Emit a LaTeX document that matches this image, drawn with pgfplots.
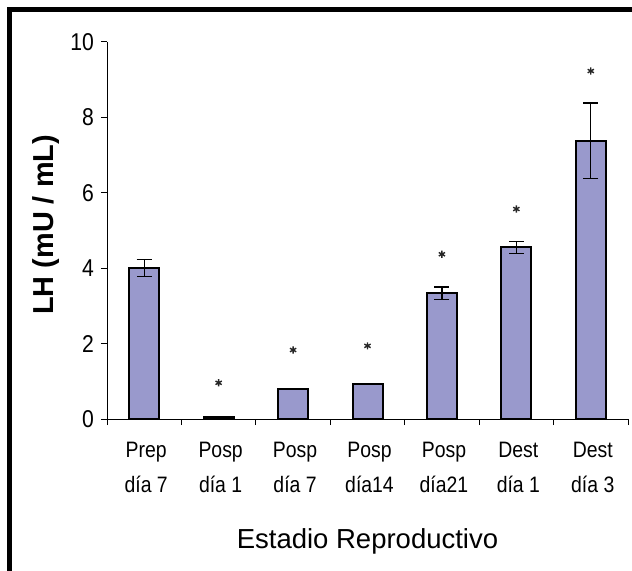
\documentclass[border=0pt]{standalone}
\usepackage{fontspec}
\setmainfont{Liberation Sans}[FakeStretch=0.87]
\newfontfamily\plainfont{Liberation Sans}
\usepackage{pgfplots}
\pgfplotsset{compat=1.18}
\definecolor{barfill}{RGB}{153,153,204}
\begin{document}
\begin{tikzpicture}
\useasboundingbox (-53.5bp,-76bp) rectangle (262.5bp,209.5bp);
\fill[black] (-49.85bp,-76bp) rectangle (-47.35bp,206.15bp);
\fill[black] (-49.85bp,203.65bp) rectangle (262.5bp,206.15bp);
\begin{axis}[
  scale only axis, width=260.5bp, height=188.5bp,
  at={(0,0)}, anchor=south west,
  xmin=-0.5, xmax=6.5, ymin=0, ymax=10,
  axis x line*=bottom, axis y line*=left,
  axis line style={line width=0.5bp},
  tick align=outside,
  major tick length=3bp, minor tick length=3bp,
  tick style={black, line width=0.5bp},
  ytick={0,2,4,6,8,10},
  xtick={0,1,2,3,4,5,6},
  minor xtick={-0.5,0.5,1.5,2.5,3.5,4.5,5.5,6.5},
  major x tick style={draw=none},
  xticklabels={{Prep\\día 7},{Posp\\día 1},{Posp\\día 7},{Posp\\día14},{Posp\\día21},{Dest\\día 1},{Dest\\día 3}},
  xticklabel style={align=center, font=\fontsize{11.2}{17.5}\selectfont, yshift=-5bp, xshift=1bp},
  yticklabel style={font=\fontsize{12.2}{14}\selectfont},
  /pgf/number format/assume math mode=true,
  xlabel={Estadio Reproductivo},
  xlabel style={font=\plainfont\fontsize{13.8}{16}\selectfont, at={(axis description cs:0.5,-0.343)}, anchor=base},
  ylabel={LH (mU / mL)},
  ylabel style={font=\plainfont\bfseries\fontsize{14.5}{16}\selectfont, at={(axis description cs:-0.103,0.515)}, anchor=base},
  ybar, bar width=15bp,
  clip=false,
]
\addplot[fill=barfill, draw=black, line width=1bp,
  error bars/.cd, y dir=both, y explicit,
  error bar style={line width=0.6bp, black},
  error mark options={rotate=90, mark size=3.75bp, line width=0.6bp, black}]
  coordinates {
  (0,4.00) +- (0,0.23)
  (1,0.05) +- (0,0)
  (2,0.80) +- (0,0)
  (3,0.92) +- (0,0)
  (4,3.34) +- (0,0.16)
  (5,4.55) +- (0,0.15)
  (6,7.38) +- (0,1.00)
  };
\addplot[only marks, mark=asterisk, mark size=1.8bp, black!85, line width=0.7bp, forget plot]
  coordinates {(1,0.96) (2,1.83) (3,1.94) (4,4.37) (5,5.57) (6,9.23)};
\end{axis}
\end{tikzpicture}
\end{document}
